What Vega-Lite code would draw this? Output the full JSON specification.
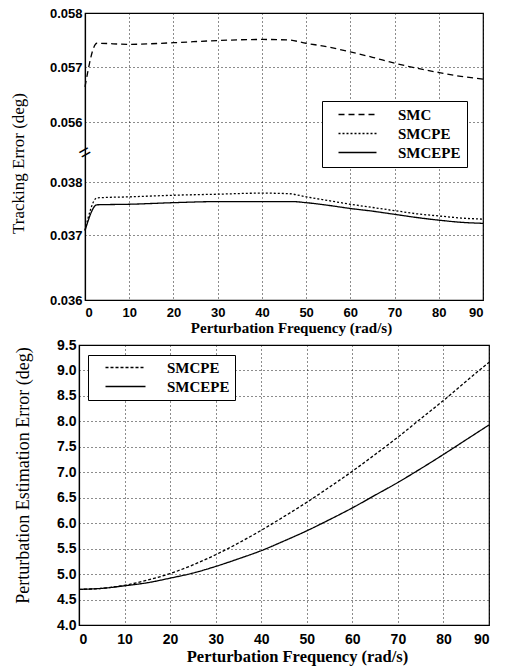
{
  "$schema": "https://vega.github.io/schema/vega-lite/v6.json",
  "background": "white",
  "padding": {"left": 8, "top": 6, "right": 5, "bottom": 5},
  "spacing": 45,
  "bounds": "flush",
  "center": true,
  "resolve": {"scale": {"strokeDash": "independent"}, "legend": {"strokeDash": "independent"}},
  "config": {
    "view": {"stroke": "black", "strokeWidth": 1.2},
    "axis": {
      "domainColor": "black",
      "domainWidth": 1.2,
      "gridColor": "black",
      "gridDash": [1, 3],
      "gridOpacity": 0.9,
      "gridWidth": 1,
      "ticks": false,
      "labelColor": "black",
      "titleColor": "black",
      "labelFont": "Liberation Sans",
      "labelFontWeight": "bold",
      "titleFont": "Liberation Serif",
      "titleFontWeight": "normal"
    }
  },
  "datasets": {
    "top": [
      {"freq": 0, "error": 0.05664, "method": "SMC"},
      {"freq": 2.7, "error": 0.05744, "method": "SMC"},
      {"freq": 10, "error": 0.05742, "method": "SMC"},
      {"freq": 20, "error": 0.05745, "method": "SMC"},
      {"freq": 30, "error": 0.05749, "method": "SMC"},
      {"freq": 40, "error": 0.05751, "method": "SMC"},
      {"freq": 46, "error": 0.0575, "method": "SMC"},
      {"freq": 50, "error": 0.05744, "method": "SMC"},
      {"freq": 55, "error": 0.05737, "method": "SMC"},
      {"freq": 60, "error": 0.05728, "method": "SMC"},
      {"freq": 65, "error": 0.05718, "method": "SMC"},
      {"freq": 70, "error": 0.05707, "method": "SMC"},
      {"freq": 75, "error": 0.05698, "method": "SMC"},
      {"freq": 80, "error": 0.0569, "method": "SMC"},
      {"freq": 85, "error": 0.05683, "method": "SMC"},
      {"freq": 90, "error": 0.05678, "method": "SMC"},
      {"freq": 0, "error": 0.03709, "method": "SMCPE"},
      {"freq": 2.7, "error": 0.0377, "method": "SMCPE"},
      {"freq": 10, "error": 0.03772, "method": "SMCPE"},
      {"freq": 20, "error": 0.03775, "method": "SMCPE"},
      {"freq": 30, "error": 0.03777, "method": "SMCPE"},
      {"freq": 40, "error": 0.03779, "method": "SMCPE"},
      {"freq": 46, "error": 0.03778, "method": "SMCPE"},
      {"freq": 50, "error": 0.03772, "method": "SMCPE"},
      {"freq": 55, "error": 0.03765, "method": "SMCPE"},
      {"freq": 60, "error": 0.03758, "method": "SMCPE"},
      {"freq": 65, "error": 0.03752, "method": "SMCPE"},
      {"freq": 70, "error": 0.03746, "method": "SMCPE"},
      {"freq": 75, "error": 0.0374, "method": "SMCPE"},
      {"freq": 80, "error": 0.03736, "method": "SMCPE"},
      {"freq": 85, "error": 0.03732, "method": "SMCPE"},
      {"freq": 90, "error": 0.0373, "method": "SMCPE"},
      {"freq": 0, "error": 0.03708, "method": "SMCEPE"},
      {"freq": 2.7, "error": 0.03757, "method": "SMCEPE"},
      {"freq": 10, "error": 0.03758, "method": "SMCEPE"},
      {"freq": 20, "error": 0.03761, "method": "SMCEPE"},
      {"freq": 30, "error": 0.03763, "method": "SMCEPE"},
      {"freq": 40, "error": 0.03763, "method": "SMCEPE"},
      {"freq": 47, "error": 0.03763, "method": "SMCEPE"},
      {"freq": 50, "error": 0.03761, "method": "SMCEPE"},
      {"freq": 55, "error": 0.03756, "method": "SMCEPE"},
      {"freq": 60, "error": 0.0375, "method": "SMCEPE"},
      {"freq": 65, "error": 0.03745, "method": "SMCEPE"},
      {"freq": 70, "error": 0.03739, "method": "SMCEPE"},
      {"freq": 75, "error": 0.03733, "method": "SMCEPE"},
      {"freq": 80, "error": 0.03728, "method": "SMCEPE"},
      {"freq": 85, "error": 0.03724, "method": "SMCEPE"},
      {"freq": 90, "error": 0.03722, "method": "SMCEPE"}
    ],
    "bottom": [
      {"freq": 0, "error": 4.7, "method": "SMCPE"},
      {"freq": 5, "error": 4.72, "method": "SMCPE"},
      {"freq": 10, "error": 4.78, "method": "SMCPE"},
      {"freq": 15, "error": 4.88, "method": "SMCPE"},
      {"freq": 20, "error": 5.01, "method": "SMCPE"},
      {"freq": 25, "error": 5.18, "method": "SMCPE"},
      {"freq": 30, "error": 5.38, "method": "SMCPE"},
      {"freq": 35, "error": 5.61, "method": "SMCPE"},
      {"freq": 40, "error": 5.86, "method": "SMCPE"},
      {"freq": 45, "error": 6.13, "method": "SMCPE"},
      {"freq": 50, "error": 6.41, "method": "SMCPE"},
      {"freq": 55, "error": 6.71, "method": "SMCPE"},
      {"freq": 60, "error": 7.02, "method": "SMCPE"},
      {"freq": 65, "error": 7.35, "method": "SMCPE"},
      {"freq": 70, "error": 7.69, "method": "SMCPE"},
      {"freq": 75, "error": 8.05, "method": "SMCPE"},
      {"freq": 80, "error": 8.41, "method": "SMCPE"},
      {"freq": 85, "error": 8.79, "method": "SMCPE"},
      {"freq": 90, "error": 9.16, "method": "SMCPE"},
      {"freq": 0, "error": 4.7, "method": "SMCEPE"},
      {"freq": 5, "error": 4.72, "method": "SMCEPE"},
      {"freq": 10, "error": 4.77, "method": "SMCEPE"},
      {"freq": 15, "error": 4.83, "method": "SMCEPE"},
      {"freq": 20, "error": 4.92, "method": "SMCEPE"},
      {"freq": 25, "error": 5.02, "method": "SMCEPE"},
      {"freq": 30, "error": 5.15, "method": "SMCEPE"},
      {"freq": 35, "error": 5.3, "method": "SMCEPE"},
      {"freq": 40, "error": 5.46, "method": "SMCEPE"},
      {"freq": 45, "error": 5.65, "method": "SMCEPE"},
      {"freq": 50, "error": 5.85, "method": "SMCEPE"},
      {"freq": 55, "error": 6.07, "method": "SMCEPE"},
      {"freq": 60, "error": 6.3, "method": "SMCEPE"},
      {"freq": 65, "error": 6.55, "method": "SMCEPE"},
      {"freq": 70, "error": 6.8, "method": "SMCEPE"},
      {"freq": 75, "error": 7.07, "method": "SMCEPE"},
      {"freq": 80, "error": 7.35, "method": "SMCEPE"},
      {"freq": 85, "error": 7.64, "method": "SMCEPE"},
      {"freq": 90, "error": 7.93, "method": "SMCEPE"}
    ]
  },
  "vconcat": [
    {
      "width": 398,
      "height": 287,
      "layer": [
        {
          "data": {"name": "top"},
          "mark": {"type": "line", "interpolate": "monotone", "color": "black", "strokeWidth": 1.3},
          "encoding": {
            "x": {
              "field": "freq", "type": "quantitative",
              "scale": {"domain": [0, 90], "nice": false},
              "axis": {
                "values": [0, 10, 20, 30, 40, 50, 60, 70, 80, 90],
                "title": "Perturbation Frequency (rad/s)",
                "titleFontSize": 15, "titleFontWeight": "bold", "labelFontSize": 13,
                "labelPadding": 6, "titlePadding": 1, "titleX": 206, "grid": true
              }
            },
            "y": {
              "field": "error", "type": "quantitative",
              "scale": {
                "domain": [0.036, 0.037, 0.038, 0.056, 0.057, 0.058],
                "range": [287, 222, 169, 109, 54, 0],
                "zero": false, "nice": false
              },
              "axis": {
                "values": [0.036, 0.037, 0.038, 0.056, 0.057, 0.058],
                "format": ".3f",
                "title": "Tracking Error (deg)",
                "titleFontSize": 17, "labelFontSize": 13,
                "labelPadding": 3, "titlePadding": 22, "titleY": 150, "grid": true
              }
            },
            "strokeDash": {
              "field": "method", "type": "nominal",
              "scale": {"domain": ["SMC", "SMCPE", "SMCEPE"], "range": [[6, 4], [2, 2], [1, 0]]},
              "legend": {
                "orient": "none", "legendX": 237, "legendY": 88,
                "title": null,
                "symbolType": "M0.5,0H6.833", "symbolSize": 144,
                "symbolStrokeWidth": 1.3, "symbolStrokeColor": "black", "symbolFillColor": "transparent",
                "labelFont": "Liberation Serif", "labelFontSize": 15, "labelFontWeight": "bold", "labelColor": "black",
                "labelOffset": 55, "labelLimit": 0,
                "labelExpr": "datum.label == 'SMCEPE' ? '\u00a0\u00a0SMCEPE' : datum.label",
                "padding": 6, "rowPadding": 3,
                "strokeColor": "black", "fillColor": "white"
              }
            }
          }
        },
        {
          "data": {"values": [{"note": "axis break"}]},
          "mark": {"type": "text", "text": "=", "angle": -30, "fontSize": 20, "color": "black", "font": "Liberation Sans"},
          "encoding": {
            "x": {"datum": 0, "type": "quantitative"},
            "y": {"datum": 0.0467, "type": "quantitative"}
          }
        }
      ]
    },
    {
      "width": 410,
      "height": 280,
      "data": {"name": "bottom"},
      "mark": {"type": "line", "interpolate": "monotone", "color": "black", "strokeWidth": 1.3},
      "encoding": {
        "x": {
          "field": "freq", "type": "quantitative",
          "scale": {"domain": [0, 90], "nice": false},
          "axis": {
            "values": [0, 10, 20, 30, 40, 50, 60, 70, 80, 90],
            "title": "Perturbation Frequency (rad/s)",
            "titleFontSize": 16.5, "titleFontWeight": "bold", "labelFontSize": 14,
            "labelPadding": 7, "titlePadding": 2, "titleX": 218, "grid": true
          }
        },
        "y": {
          "field": "error", "type": "quantitative",
          "scale": {"domain": [4, 9.5], "zero": false, "nice": false},
          "axis": {
            "values": [4, 4.5, 5, 5.5, 6, 6.5, 7, 7.5, 8, 8.5, 9, 9.5],
            "format": ".1f",
            "title": "Perturbation Estimation Error (deg)",
            "titleFontSize": 18, "labelFontSize": 14,
            "labelPadding": 3, "titlePadding": 24, "titleY": 130, "grid": true
          }
        },
        "strokeDash": {
          "field": "method", "type": "nominal",
          "scale": {"domain": ["SMCPE", "SMCEPE"], "range": [[3, 2], [1, 0]]},
          "legend": {
            "orient": "none", "legendX": 9, "legendY": 10,
            "title": null,
            "symbolType": "M0.833,0H7.5", "symbolSize": 144,
            "symbolStrokeWidth": 1.3, "symbolStrokeColor": "black", "symbolFillColor": "transparent",
            "labelFont": "Liberation Serif", "labelFontSize": 15, "labelFontWeight": "bold", "labelColor": "black",
            "labelOffset": 59, "labelLimit": 0,
            "labelExpr": "datum.label == 'SMCEPE' ? '\u00a0\u00a0SMCEPE' : datum.label",
            "padding": 5, "rowPadding": 3,
            "strokeColor": "black", "fillColor": "white"
          }
        }
      }
    }
  ]
}
